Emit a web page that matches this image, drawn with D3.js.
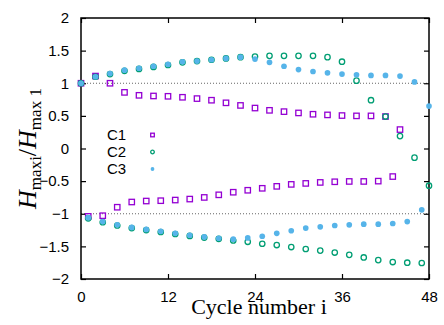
<!DOCTYPE html>
<html>
<head>
<meta charset="utf-8">
<script src="https://cdn.jsdelivr.net/npm/d3@7"></script>
<style>
  body { margin: 0; background: #fff; }
  svg { display: block; }
</style>
</head>
<body>
<div class="chart-container"></div>
<script>
// Cycle indices: upper branch at even cycles, lower branch at odd cycles
const upperCycles = [0, 2, 4, 6, 8, 10, 12, 14, 16, 18, 20, 22, 24, 26, 28, 30, 32, 34, 36, 38, 40, 42, 44, 46, 48];
const lowerCycles = [1, 3, 5, 7, 9, 11, 13, 15, 17, 19, 21, 23, 25, 27, 29, 31, 33, 35, 37, 39, 41, 43, 45, 47];

const c1Upper = [1.0, 1.11, 1.0, 0.86, 0.815, 0.805, 0.80, 0.785, 0.765, 0.74, 0.70, 0.66, 0.62, 0.585, 0.565, 0.545, 0.525, 0.515, 0.505, 0.50, 0.50, 0.49, 0.29];
const c1Lower = [-1.04, -1.03, -0.90, -0.82, -0.805, -0.80, -0.79, -0.775, -0.75, -0.71, -0.67, -0.64, -0.61, -0.58, -0.55, -0.535, -0.52, -0.51, -0.505, -0.505, -0.50, -0.43];

const c2Upper = [1.0, 1.10, 1.14, 1.19, 1.22, 1.25, 1.28, 1.32, 1.34, 1.36, 1.38, 1.40, 1.41, 1.42, 1.42, 1.42, 1.42, 1.40, 1.33, 1.04, 0.74, 0.49, 0.19, -0.14, -0.57];
const c2Lower = [-1.07, -1.13, -1.18, -1.22, -1.25, -1.28, -1.31, -1.34, -1.365, -1.385, -1.41, -1.43, -1.46, -1.48, -1.51, -1.54, -1.565, -1.595, -1.63, -1.67, -1.71, -1.74, -1.75, -1.755];

const c3Upper = [1.0, 1.10, 1.15, 1.20, 1.23, 1.26, 1.29, 1.33, 1.34, 1.36, 1.38, 1.40, 1.37, 1.32, 1.26, 1.21, 1.18, 1.16, 1.14, 1.13, 1.12, 1.12, 1.11, 1.02, 0.65];
const c3Lower = [-1.06, -1.12, -1.17, -1.21, -1.24, -1.27, -1.30, -1.33, -1.355, -1.375, -1.39, -1.37, -1.345, -1.30, -1.26, -1.22, -1.20, -1.18, -1.17, -1.16, -1.16, -1.15, -1.12, -0.94];

const xTicks = [0, 12, 24, 36, 48];
const yTicks = [-2, -1.5, -1, -0.5, 0, 0.5, 1, 1.5, 2];
const refLines = [1, -1];
const seriesNames = ["C1", "C2", "C3"];

const width = 444;
const height = 325;
const marginTop = 18;
const marginRight = 15;
const marginBottom = 46;
const marginLeft = 81;

const colors = { C1: "#9400D3", C2: "#009E73", C3: "#56B4E9" };

function pairs(cycles, values) {
    return values.map((v, i) => ({ cycle: cycles[i], value: v }));
}

const series = [
    { name: "C1", points: pairs(upperCycles, c1Upper).concat(pairs(lowerCycles, c1Lower)) },
    { name: "C2", points: pairs(upperCycles, c2Upper).concat(pairs(lowerCycles, c2Lower)) },
    { name: "C3", points: pairs(upperCycles, c3Upper).concat(pairs(lowerCycles, c3Lower)) }
];

const x = d3.scaleLinear().domain([0, 48]).range([marginLeft, width - marginRight]);
const y = d3.scaleLinear().domain([-2, 2]).range([height - marginBottom, marginTop]);

const svg = d3.select(".chart-container").append("svg")
    .attr("width", width)
    .attr("height", height);

const sans = "'Liberation Sans', Arial, sans-serif";
const serif = "'Liberation Serif', 'Times New Roman', serif";

// dotted reference lines
svg.selectAll(".ref")
    .data(refLines)
    .enter()
    .append("line")
    .attr("x1", x(0))
    .attr("x2", x(48))
    .attr("y1", d => y(d))
    .attr("y2", d => y(d))
    .attr("stroke", "#666")
    .attr("stroke-width", 1)
    .attr("stroke-dasharray", "1,2");

// axes with inward ticks, mirrored on top and right
const axisStyle = g => {
    g.select(".domain").remove();
    g.selectAll(".tick line").attr("stroke", "#000").attr("stroke-width", 1.2);
    g.selectAll(".tick text").style("font-family", sans).style("font-size", "15px").attr("fill", "#000");
};

svg.append("g")
    .attr("transform", `translate(0,${height - marginBottom})`)
    .call(d3.axisBottom(x).tickValues(xTicks).tickSizeInner(-5).tickSizeOuter(0).tickPadding(12))
    .call(axisStyle);

svg.append("g")
    .attr("transform", `translate(0,${marginTop})`)
    .call(d3.axisTop(x).tickValues(xTicks).tickSizeInner(-5).tickSizeOuter(0).tickFormat(""))
    .call(axisStyle);

svg.append("g")
    .attr("transform", `translate(${marginLeft},0)`)
    .call(d3.axisLeft(y).tickValues(yTicks).tickSizeInner(-5).tickSizeOuter(0).tickPadding(12).tickFormat(d3.format("")))
    .call(axisStyle);

svg.append("g")
    .attr("transform", `translate(${width - marginRight},0)`)
    .call(d3.axisRight(y).tickValues(yTicks).tickSizeInner(-5).tickSizeOuter(0).tickFormat(""))
    .call(axisStyle);

// frame
svg.append("rect")
    .attr("x", x(0))
    .attr("y", y(2))
    .attr("width", x(48) - x(0))
    .attr("height", y(-2) - y(2))
    .attr("fill", "none")
    .attr("stroke", "#000")
    .attr("stroke-width", 1.5);

// markers
function drawMarker(sel, name, size) {
    if (name === "C1") {
        sel.append("rect")
            .attr("x", -size).attr("y", -size)
            .attr("width", size * 2).attr("height", size * 2)
            .attr("fill", "none")
            .attr("stroke", colors.C1)
            .attr("stroke-width", 1.3);
    } else if (name === "C2") {
        sel.append("circle")
            .attr("r", size)
            .attr("fill", "none")
            .attr("stroke", colors.C2)
            .attr("stroke-width", 1.3);
    } else {
        sel.append("circle")
            .attr("r", size * 1.05)
            .attr("fill", colors.C3);
    }
}

series.forEach(s => {
    svg.append("g")
        .selectAll("g")
        .data(s.points)
        .enter()
        .append("g")
        .attr("transform", d => `translate(${x(d.cycle)},${y(d.value)})`)
        .each(function () { drawMarker(d3.select(this), s.name, 2.7); });
});

// legend
const legend = svg.append("g");
seriesNames.forEach((name, i) => {
    const ly = 140 + i * 17;
    legend.append("text")
        .attr("x", 107)
        .attr("y", ly)
        .style("font-family", sans)
        .style("font-size", "15px")
        .text(name);
    const m = legend.append("g").attr("transform", `translate(152.5,${ly - 5})`);
    drawMarker(m, name, 1.8);
});

// x label
svg.append("text")
    .attr("x", (x(0) + x(48)) / 2 + 4)
    .attr("y", 314)
    .attr("text-anchor", "middle")
    .style("font-family", serif)
    .style("font-size", "22px")
    .text("Cycle number i");

// y label
const yl = svg.append("text")
    .attr("transform", `translate(36,${(y(2) + y(-2)) / 2}) rotate(-90)`)
    .attr("text-anchor", "middle")
    .style("font-family", serif)
    .style("font-size", "26px");
yl.append("tspan").style("font-style", "italic").text("H");
yl.append("tspan").attr("dy", 5).style("font-size", "17px").text("maxi");
yl.append("tspan").attr("dy", -5).text("/");
yl.append("tspan").style("font-style", "italic").text("H");
yl.append("tspan").attr("dy", 5).style("font-size", "17px").text("max 1");
</script>
</body>
</html>
